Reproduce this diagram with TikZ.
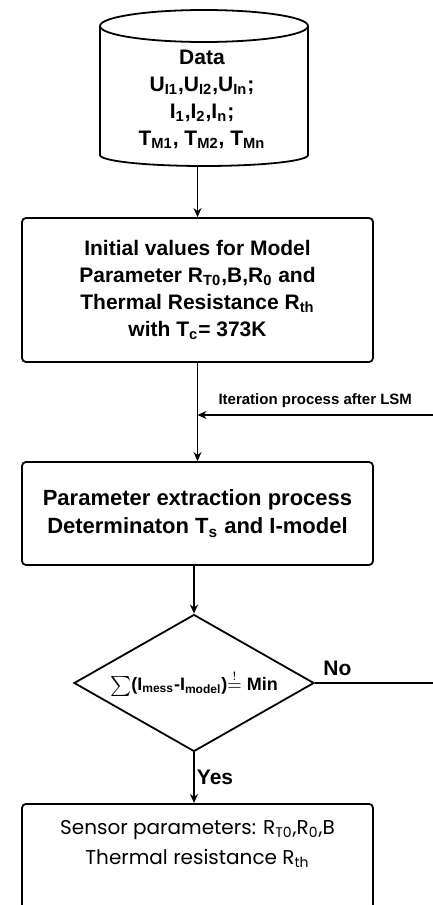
\documentclass[tikz,border=0pt]{standalone}
\usepackage{fontspec}
\setmainfont{Liberation Sans}
\newfontfamily\gothicfont{Poppins}
\usetikzlibrary{
  positioning,
  shapes.geometric,
  arrows.meta
}

\begin{document}
\begin{tikzpicture}[x=0.5pt, y=-0.5pt,
    every node/.style={font=\bfseries\fontsize{10.5}{13.5}\selectfont, align=center},
    box/.style={draw, line width=0.9pt, rounded corners=2pt, minimum width=175.5pt, inner sep=0pt},
    flow/.style={draw, line width=0.9pt, -{Stealth[length=4.5pt, width=4pt]}},
    small/.style={font=\bfseries\fontsize{7.5}{9}\selectfont}
  ]
	    
	    \clip (0,0) rectangle (433,905);
	    % database
	    \node[minimum width=104pt, minimum height=78pt, inner sep=0pt] (data) at (204,88) {};
	    \draw[line width=0.9pt] (204,26) ellipse [x radius=104, y radius=16];
	    \draw[line width=0.9pt] (100,26) -- (100,155) arc [start angle=180, end angle=0, x radius=104, y radius=11] -- (308,26);
	    \node (datatxt) at (202,99) {Data\\
	        U\textsubscript{I1},U\textsubscript{I2},U\textsubscript{In};\\
	        I\textsubscript{1},I\textsubscript{2},I\textsubscript{n};\\
	        T\textsubscript{M1}, T\textsubscript{M2}, T\textsubscript{Mn}};
	    
	    \node[box, minimum height=72pt] (init) at (197.5,290) {Initial values for Model\\
	        Parameter R\textsubscript{T0},B,R\textsubscript{0} and\\
	        Thermal Resistance R\textsubscript{th}\\
	        with T\textsubscript{c}= 373K};
	    \node[box, minimum height=51.5pt, font=\bfseries\fontsize{11}{14}\selectfont] (extract) at (197.5,513.5)
	        {Parameter extraction process\\
	        Determinaton T\textsubscript{s} and I-model};
	    \node[diamond, draw, line width=0.9pt, aspect=1.75, minimum width=120pt,
	          minimum height=68.5pt, inner sep=0pt, font=\bfseries\fontsize{9}{11}\selectfont] (check) at (194,683)
	        {$\sum$(I\textsubscript{mess}-I\textsubscript{model})$\stackrel{!}{=}$ Min};
	    \node[box, anchor=north, inner ysep=8pt, text depth=50pt,
	          font=\gothicfont\fontsize{10}{15}\selectfont] (result) at (197.5,803)
	        {Sensor parameters: R\textsubscript{T0},R\textsubscript{0},B\\
	        Thermal resistance R\textsubscript{th}};
	    
	    \coordinate (loop) at (433,415);
	    \coordinate (noend) at (433,683);
	    
	    \draw[flow] (init.north |- data.south) -- (init.north);
	    \draw[flow] (init.south) -- (extract.north);
	    \draw[flow] (loop) -- node[small, above] (iterlbl) {Iteration process after LSM} (loop -| init.south);
	    \draw[flow] (extract.south -| check.north) -- (check.north);
	    \draw[line width=0.9pt] (check.east) -- node[pos=0.19, above] (nolbl) {No} (noend);
	    \draw[flow] (check.south) -- node[right, inner sep=1pt] (yeslbl) {Yes} (check.south |- result.north);

\end{tikzpicture}
\end{document}
